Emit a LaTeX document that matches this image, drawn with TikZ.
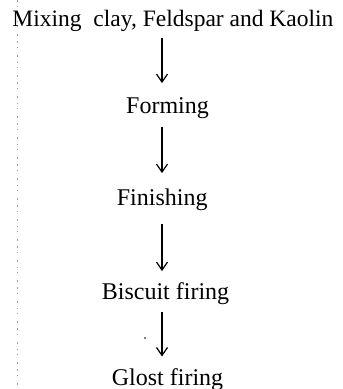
\documentclass[tikz,border=0pt]{standalone}
\usepackage{fontspec}
\setmainfont{Liberation Serif}
\usetikzlibrary{arrows.meta}

\tikzset{
  stage/.style={anchor=base west, inner sep=0pt, text height=16pt, text depth=5pt,
    font=\fontsize{24}{28}\selectfont},
  flow/.style={line width=1.4pt, -{Straight Barb[length=8pt,width=11pt,line width=1.2pt]}},
  edge/.style={gray!75, line width=0.8pt, dash pattern=on 1.5pt off 4pt on 1pt off 7pt on 2pt off 5pt}
}

\begin{document}
\begin{tikzpicture}[x=1pt,y=-1pt]
  \useasboundingbox (0,0) rectangle (343,389);

  % faint page edge on the left
  \draw[edge] (17.3,0) -- (17.3,389);

  % process stages
  \node[stage, font=\fontsize{23.5}{28}\selectfont] (mix) at (12.3,26.7) {Mixing\ \ clay, Feldspar and Kaolin};
  \node[stage] (form) at (126,113.3) {Forming};
  \node[stage] (fin) at (116.7,205) {Finishing};
  \node[stage] (bis) at (101.7,299.3) {Biscuit firing};
  \node[stage] (glo) at (111.7,385) {Glost firing};

  % common axis of the arrows
  \coordinate (ax) at (162,0);

  \draw[flow, shorten <=5.6pt, shorten >=14pt] (mix.south -| ax) -- (form.north -| ax);
  \draw[flow, shorten <=8.4pt, shorten >=15.7pt] (form.south -| ax) -- (fin.north -| ax);
  \draw[flow, shorten <=14pt, shorten >=12pt] (fin.south -| ax) -- (bis.north -| ax);
  \draw[flow, shorten <=7.4pt, shorten >=12.3pt] (bis.south -| ax) -- (glo.north -| ax);

  % small speck beside the last arrow
  \fill (145,338) circle (0.9pt);
\end{tikzpicture}
\end{document}
